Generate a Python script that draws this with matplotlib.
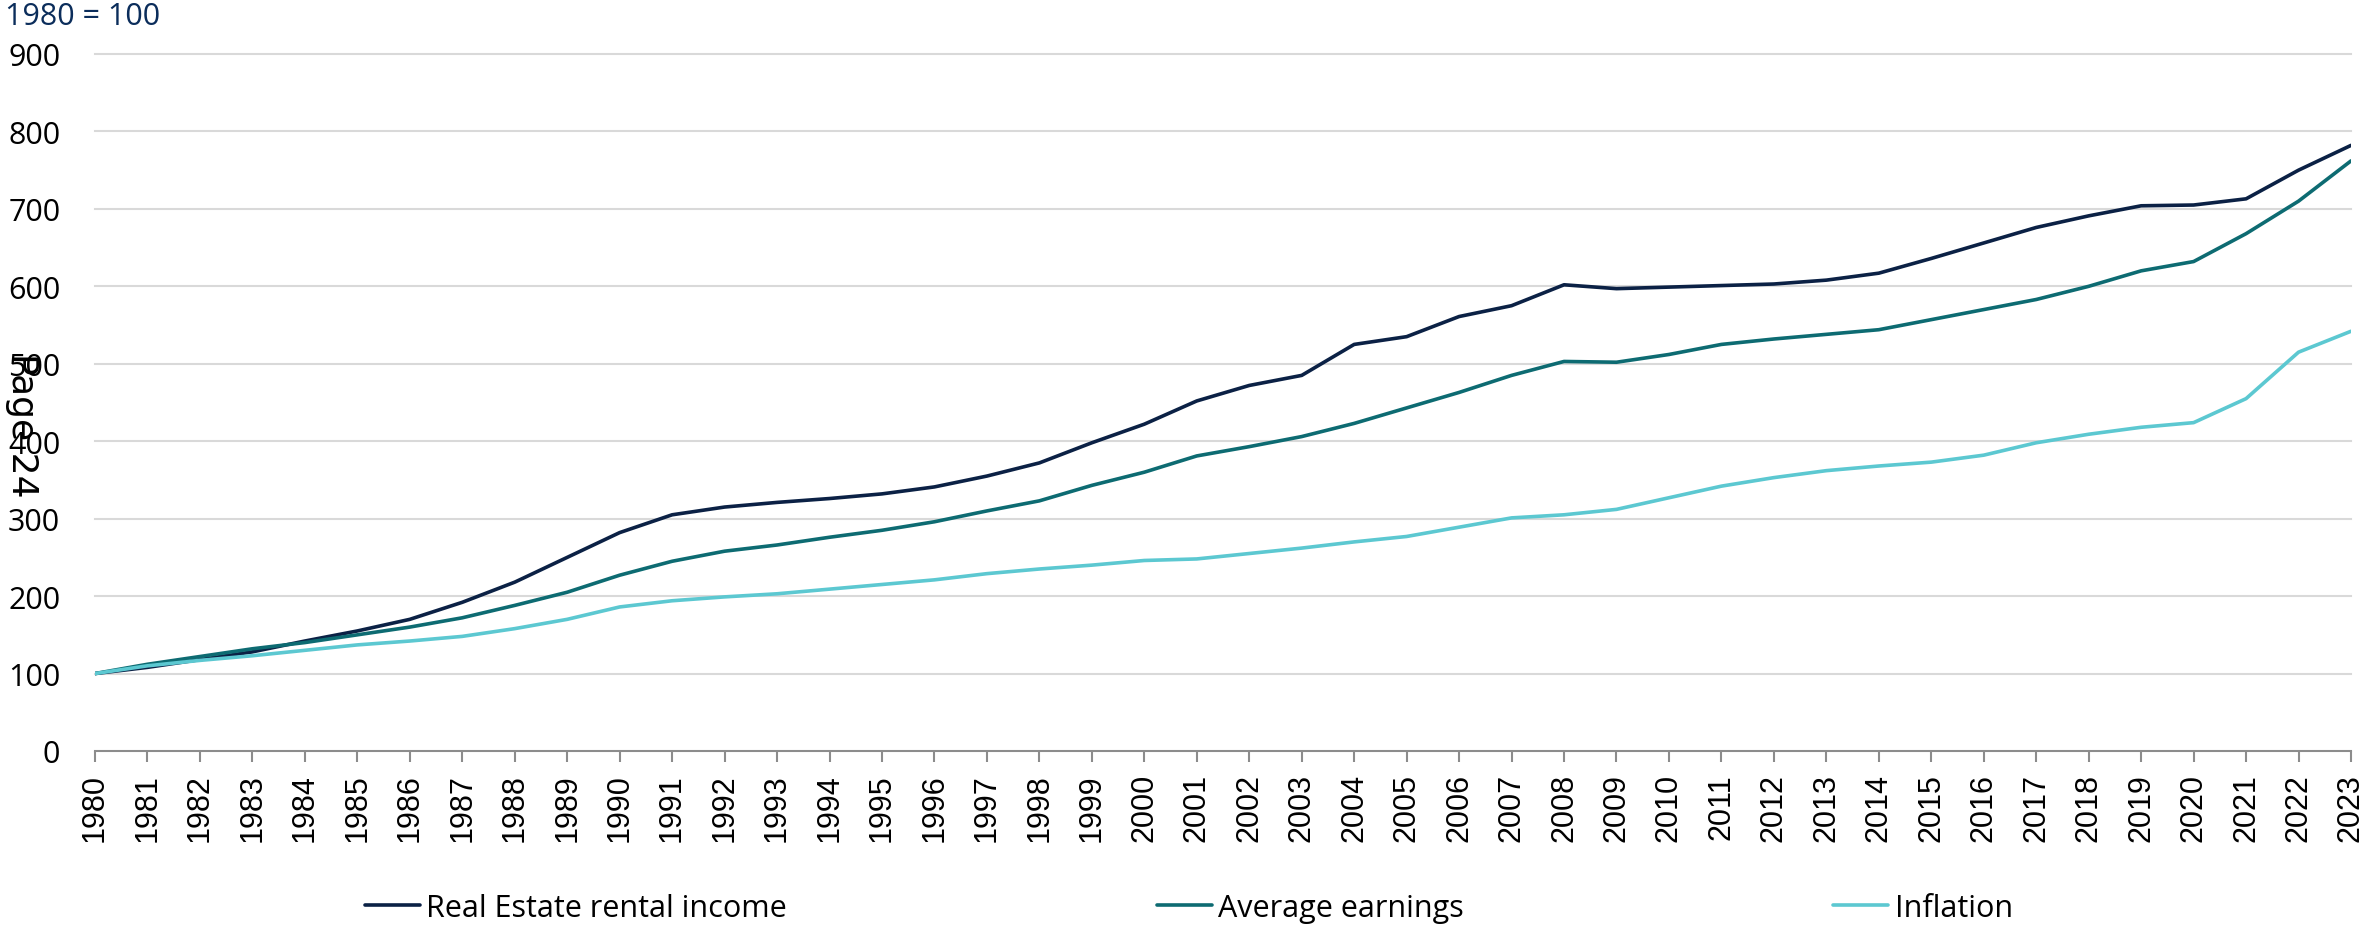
import matplotlib
matplotlib.use("Agg")
import matplotlib.pyplot as plt

# Index values, 1980 = 100
years = list(range(1980, 2024))

rental_income = [100, 108, 118, 128, 142, 155, 170, 192, 218, 250,
                 282, 305, 315, 321, 326, 332, 341, 355, 372, 398,
                 422, 452, 472, 485, 525, 535, 561, 575, 602, 597,
                 599, 601, 603, 608, 617, 636, 656, 676, 691, 704,
                 705, 713, 750, 782]

avg_earnings = [100, 112, 122, 132, 140, 150, 160, 172, 188, 205,
                227, 245, 258, 266, 276, 285, 296, 310, 323, 343,
                360, 381, 393, 406, 423, 443, 463, 485, 503, 502,
                512, 525, 532, 538, 544, 557, 570, 583, 600, 620,
                632, 668, 710, 762]

inflation = [100, 110, 117, 123, 130, 137, 142, 148, 158, 170,
             186, 194, 199, 203, 209, 215, 221, 229, 235, 240,
             246, 248, 255, 262, 270, 277, 289, 301, 305, 312,
             327, 342, 353, 362, 368, 373, 382, 398, 409, 418,
             424, 455, 515, 542]

labels = ["Real Estate rental income", "Average earnings", "Inflation"]
colors = ["#0b2145", "#0d6b72", "#5cc8d1"]

W, H = 2365, 928
fig = plt.figure(figsize=(W / 100, H / 100), dpi=100)
ax = fig.add_axes([95 / W, 1 - 752 / H, (2351 - 95) / W, (752 - 55) / H])

for series, lab, col in zip([rental_income, avg_earnings, inflation], labels, colors):
    ax.plot(years, series, color=col, lw=2.6, label=lab,
            solid_joinstyle="round", solid_capstyle="round")

ax.set_xlim(1980, 2023)
ax.set_ylim(0, 900)
ax.set_yticks(range(0, 1000, 100))
ax.set_xticks(years)
ax.set_xticklabels([str(y) for y in years], rotation=90,
                   family="Liberation Sans", fontsize=22)
for t in ax.get_yticklabels():
    t.set_family("Open Sans")
    t.set_fontsize(22)

# gridlines (not at zero, the axis sits there)
for v in range(100, 1000, 100):
    ax.axhline(v, color="#d9d9d9", lw=1.5, zorder=0, clip_on=False)

for s in ["top", "right", "left"]:
    ax.spines[s].set_visible(False)
ax.spines["bottom"].set_color("#8c8c8c")
ax.spines["bottom"].set_linewidth(1.5)
ax.tick_params(axis="x", length=8, width=1.5, color="#8c8c8c", pad=8)
ax.tick_params(axis="y", length=0, pad=25)

fig.text(5 / W, 1 - 25 / H, "1980 = 100", family="Open Sans", fontsize=22,
         color="#0b2d5b", ha="left", va="baseline")

fig.text(22 / W, 1 - 425 / H, "Page 24", family="DejaVu Sans", fontsize=26,
         rotation=-90, ha="center", va="center")

leg = fig.legend(loc="center", bbox_to_anchor=(1189 / W, 1 - 909 / H), ncol=3,
                 frameon=False, prop={"family": "Open Sans", "size": 22},
                 handlelength=1.8, handletextpad=0.2, columnspacing=12.1)

fig.savefig("out.png", dpi=100)
